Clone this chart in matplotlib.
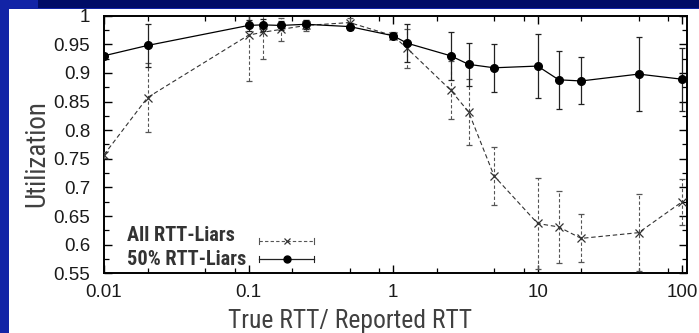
import matplotlib
matplotlib.use("Agg")
import matplotlib.pyplot as plt
from matplotlib import font_manager
from matplotlib.patches import Rectangle
from matplotlib.ticker import LogLocator, FixedLocator, FixedFormatter, MultipleLocator, NullFormatter
from matplotlib.lines import Line2D

# ---- data ----
rtt_ratio = [0.01, 0.02, 0.1, 0.125, 0.167, 0.25, 0.5, 1, 1.25, 2.5, 3.33, 5, 10, 14, 20, 50, 100]
all_liars = [0.757, 0.857, 0.966, 0.971, 0.976, 0.983, 0.988, 0.965, 0.943, 0.870, 0.832,
             0.720, 0.637, 0.631, 0.611, 0.621, 0.675]
all_liars_err = [0.005, 0.06, 0.08, 0.046, 0.02, 0.01, 0.008, 0.006, 0.034, 0.05, 0.057,
                 0.051, 0.08, 0.063, 0.042, 0.067, 0.04]
half_liars = [0.930, 0.948, 0.983, 0.984, 0.983, 0.985, 0.981, 0.965, 0.952, 0.930, 0.915,
              0.909, 0.912, 0.888, 0.886, 0.898, 0.889]
half_liars_err = [0.005, 0.038, 0.01, 0.01, 0.008, 0.008, 0.006, 0.005, 0.033, 0.042, 0.037,
                  0.042, 0.056, 0.051, 0.041, 0.065, 0.055]

x_ticks = [0.01, 0.1, 1, 10, 100]
x_tick_labels = ["0.01", "0.1", "1", "10", "100"]
y_ticks = [0.55, 0.6, 0.65, 0.7, 0.75, 0.8, 0.85, 0.9, 0.95, 1.0]
y_tick_labels = ["0.55", "0.6", "0.65", "0.7", "0.75", "0.8", "0.85", "0.9", "0.95", "1"]
series_labels = ["All RTT-Liars", "50% RTT-Liars"]

plt.rcParams['font.family'] = ['Liberation Sans', 'DejaVu Sans']

# pick a narrow (Arial-Narrow-like) face if one is installed
fonts = font_manager.fontManager.ttflist
names = {f.name for f in fonts}
narrow_kw = dict(family=['Liberation Sans', 'DejaVu Sans'])
scale = 0.85
if 'Liberation Sans Narrow' in names:
    narrow_kw = dict(family=['Liberation Sans Narrow', 'DejaVu Sans'])
    scale = 1.0
elif 'Arial Narrow' in names:
    narrow_kw = dict(family=['Arial Narrow', 'DejaVu Sans'])
    scale = 1.0
elif 'Roboto Condensed' in names:
    narrow_kw = dict(family=['Roboto Condensed', 'DejaVu Sans'])
    scale = 0.97
elif any(f.name == 'DejaVu Sans' and f.stretch == 'condensed' for f in fonts):
    narrow_kw = dict(family=['DejaVu Sans'], fontstretch='condensed')
    scale = 0.9

W, H = 699, 333
fig = plt.figure(figsize=(W / 100, H / 100), dpi=100)
fig.patch.set_facecolor('#1224a6')

# slide decorations
fig.patches.append(Rectangle((38 / W, 1 - 8 / H), 1, 8 / H, transform=fig.transFigure,
                             facecolor='#000c66', edgecolor='none', zorder=-10))
fig.patches.append(Rectangle((9 / W, 0), 1, 1 - 9 / H, transform=fig.transFigure,
                             facecolor='white', edgecolor='none', zorder=-10))

ax = fig.add_axes([104 / W, (H - 273.3) / H, (687 - 104) / W, (273.3 - 15.7) / H])
ax.set_zorder(5)
ax.set_facecolor('white')

# 50% RTT-Liars (solid)
l2, c2, b2 = ax.errorbar(rtt_ratio, half_liars, yerr=half_liars_err, color='black',
                         linestyle='-', linewidth=0.9, marker='o', markersize=5.5,
                         ecolor='#222222', elinewidth=0.9, capsize=2.5, capthick=0.9, zorder=4)
# All RTT-Liars (dashed)
l1, c1, b1 = ax.errorbar(rtt_ratio, all_liars, yerr=all_liars_err, color='#333333',
                         linestyle=(0, (4, 2.5)), linewidth=0.8, marker='x', markersize=6,
                         markeredgewidth=0.9,
                         ecolor='#555555', elinewidth=0.8, capsize=2.5, capthick=0.8, zorder=3)
for bc in b1:
    bc.set_linestyle((0, (3, 2)))

ax.set_xscale('log')
ax.set_xlim(0.01, 108)
ax.set_ylim(0.55, 1.0)

ax.xaxis.set_major_locator(FixedLocator(x_ticks))
ax.xaxis.set_major_formatter(FixedFormatter(x_tick_labels))
ax.xaxis.set_minor_locator(LogLocator(base=10, subs=(2, 5, 8)))
ax.xaxis.set_minor_formatter(NullFormatter())
ax.yaxis.set_major_locator(FixedLocator(y_ticks))
ax.yaxis.set_major_formatter(FixedFormatter(y_tick_labels))
ax.yaxis.set_minor_locator(MultipleLocator(0.025))

ax.tick_params(which='both', direction='in', top=True, right=True, colors='black')
ax.tick_params(which='major', length=6, width=1.0, labelsize=13.5, labelcolor='#1a1a1a')
ax.tick_params(which='minor', length=3.5, width=0.9)
ax.tick_params(axis='y', which='major', pad=10)
ax.tick_params(axis='x', which='major', pad=8)
for s in ax.spines.values():
    s.set_linewidth(1.4)
    s.set_color('black')

# axis titles (centred on the slide, as in the reference)
fig.text(350 / W, 1 - 328 / H, "True RTT/ Reported RTT", fontsize=19 * scale,
         color='#404040', ha='center', va='baseline', **narrow_kw)
fig.text(44 / W, 1 - 154 / H, "Utilization", fontsize=20 * scale,
         color='#404040', ha='center', va='baseline', rotation=90,
         rotation_mode='anchor', **narrow_kw)

# legend (gnuplot-style, with error caps)
ax.text(0.039, 0.1254, series_labels[0], transform=ax.transAxes, fontsize=15 * scale,
        fontweight='bold', color='#333333', va='baseline', ha='left', **narrow_kw)
ax.text(0.039, 0.032, series_labels[1], transform=ax.transAxes, fontsize=15 * scale,
        fontweight='bold', color='#333333', va='baseline', ha='left', **narrow_kw)
ax.add_line(Line2D([0.266, 0.360], [0.125, 0.125], transform=ax.transAxes, color='#555555',
                   linestyle=(0, (3, 2)), linewidth=0.8))
ax.add_line(Line2D([0.314], [0.125], transform=ax.transAxes, color='#333333', marker='x',
                   markersize=5, markeredgewidth=0.9, linestyle='none'))
ax.add_line(Line2D([0.266, 0.360], [0.055, 0.055], transform=ax.transAxes, color='#222222',
                   linewidth=0.9))
ax.add_line(Line2D([0.314], [0.055], transform=ax.transAxes, color='black', marker='o',
                   markersize=5, linestyle='none'))
for xx in (0.266, 0.360):
    for yy, col in ((0.125, '#555555'), (0.055, '#222222')):
        ax.add_line(Line2D([xx, xx], [yy - 0.012, yy + 0.012], transform=ax.transAxes,
                           color=col, linewidth=0.8))

fig.savefig("out.png", dpi=100, facecolor=fig.get_facecolor())
